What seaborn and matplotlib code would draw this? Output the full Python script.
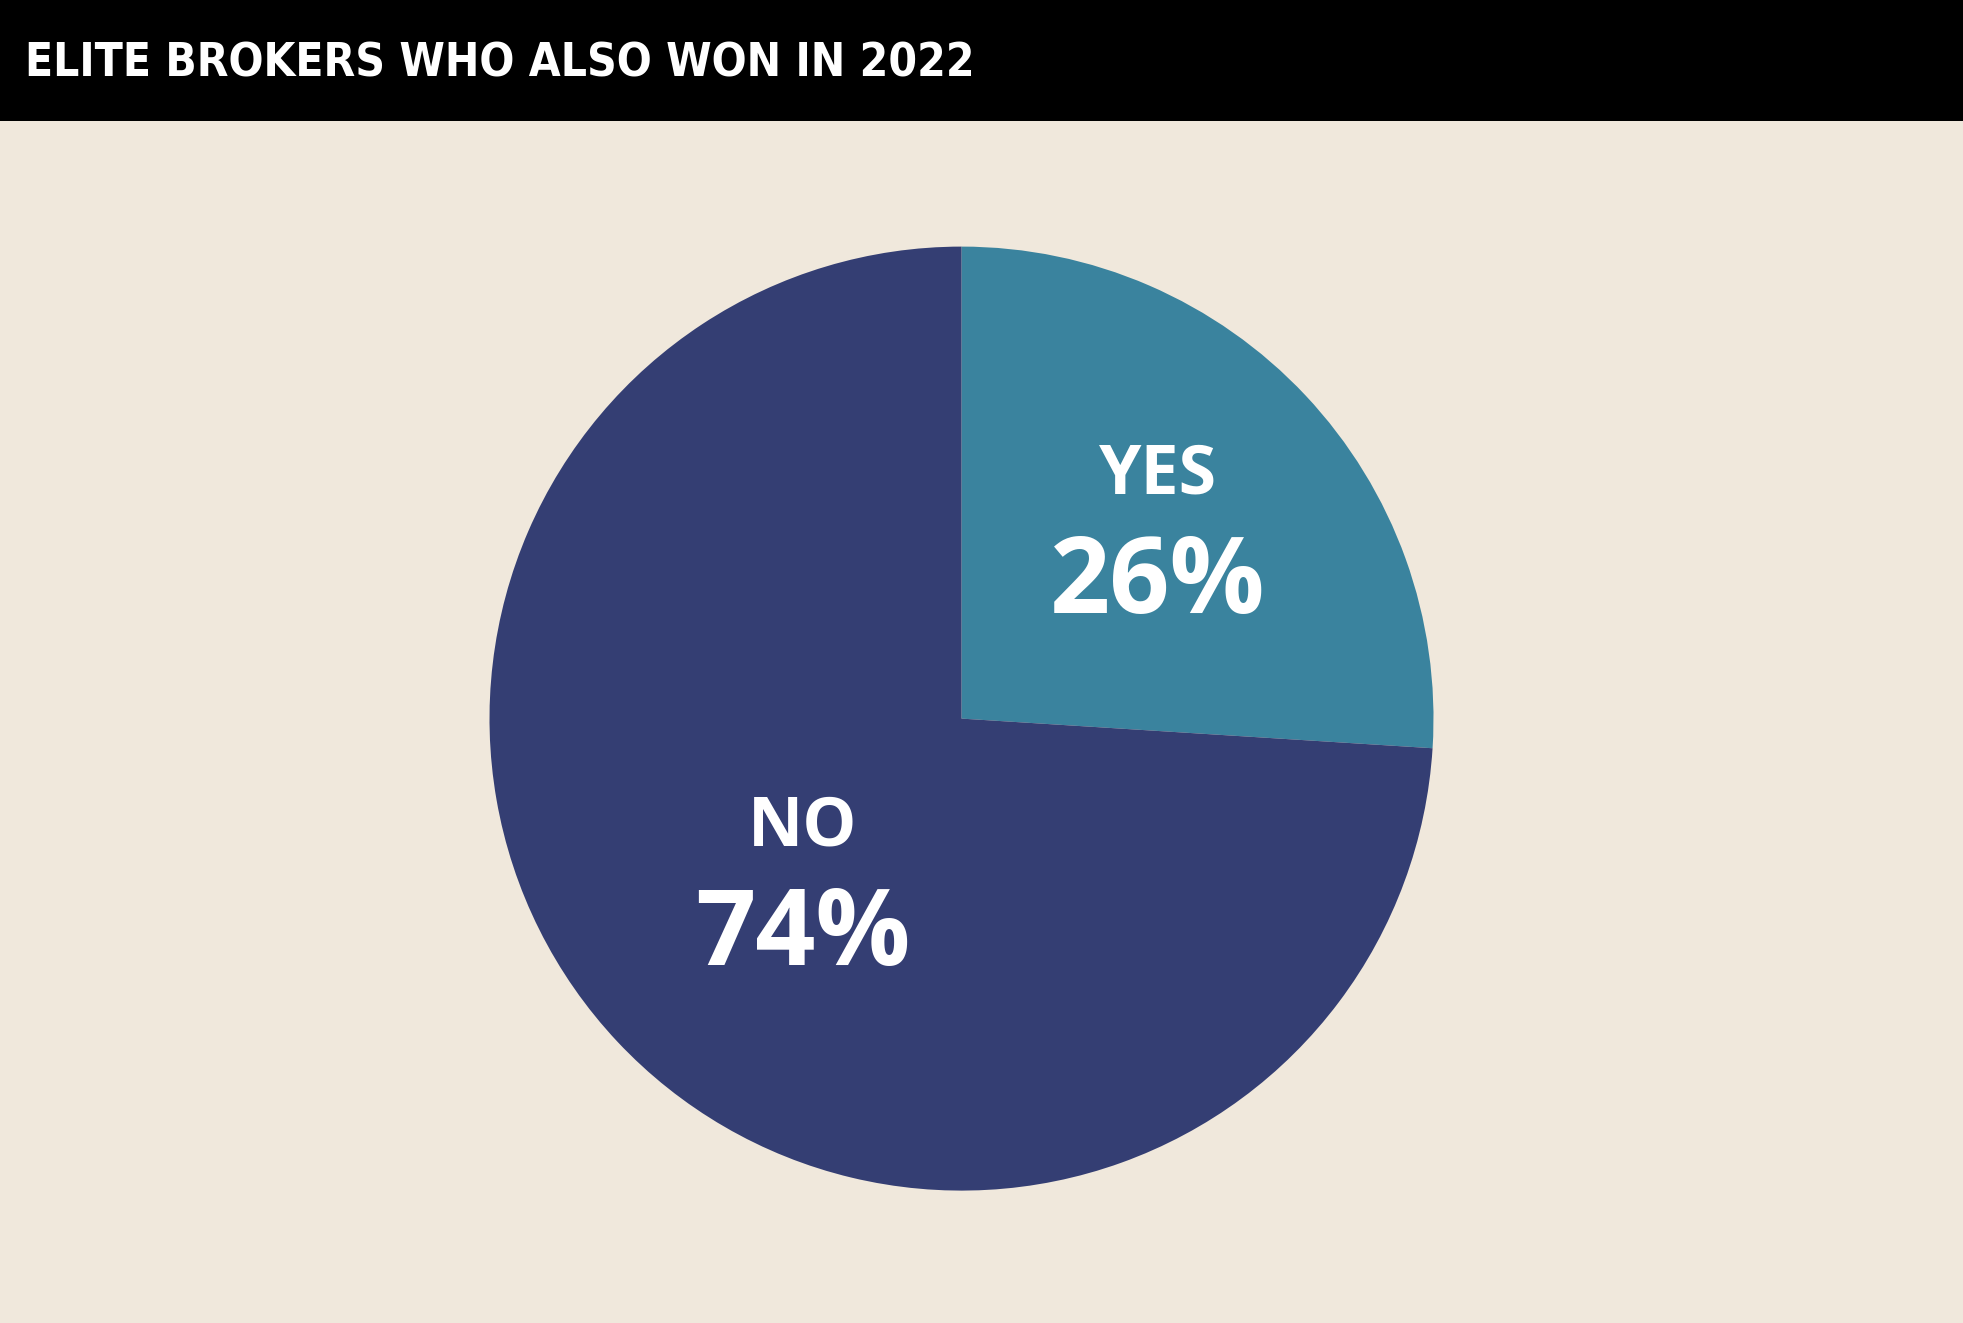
import seaborn as sns
import matplotlib.pyplot as plt

# data
categorias = ['YES', 'NO']
valores = [26, 74]
cores = ['#3A839E', '#343E73']
titulo = 'ELITE BROKERS WHO ALSO WON IN 2022'

sns.set_theme(style='white')
plt.rcParams['font.family'] = ['Open Sans', 'DejaVu Sans']

fundo = '#F0E8DC'
fig = plt.figure(figsize=(19.63, 13.23), dpi=100, facecolor=fundo)

# faixa preta do titulo
faixa = fig.add_axes([0, 1 - 121 / 1323, 1, 121 / 1323])
faixa.set_facecolor('black')
faixa.set_xticks([])
faixa.set_yticks([])
for s in faixa.spines.values():
    s.set_visible(False)
faixa.text(25 / 1963, 0.47, titulo, transform=faixa.transAxes, color='white',
           fontsize=33, fontweight='bold', fontstretch='condensed', va='center', ha='left',
           family=['DejaVu Sans'])

# pizza
raio = 472
cx, cy = 961.5, 718.6
ax = fig.add_axes([(cx - raio) / 1963, 1 - (cy + raio) / 1323, 2 * raio / 1963, 2 * raio / 1323])
ax.set_facecolor(fundo)
fatias, _ = ax.pie(valores, colors=cores, startangle=90, counterclock=False,
                   radius=1, wedgeprops=dict(linewidth=0))
ax.set_xlim(-1, 1)
ax.set_ylim(-1, 1)
ax.set_aspect('equal')

# posicao dos rotulos dentro de cada fatia
posicoes = [(0.416, 0.398), (-0.337, -0.347)]
for (x, y), cat, v in zip(posicoes, categorias, valores):
    ax.text(x, y + 0.116, cat, color='white', fontsize=49, fontweight='bold',
            ha='center', va='center')
    ax.text(x, y - 0.116, f'{v}%', color='white', fontsize=76, fontweight='bold',
            ha='center', va='center')

fig.savefig('out.png', dpi=100, facecolor=fundo)
